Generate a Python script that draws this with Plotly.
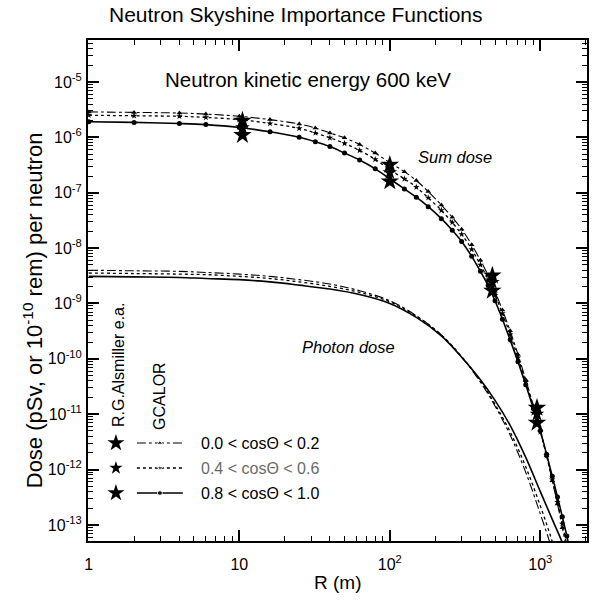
import plotly.graph_objects as go

# ---- GCALOR results: sum dose (neutron + photon) vs distance R (m) ----
r_sum = [1, 2, 4, 6, 10, 16, 25, 32, 40, 50, 63, 80, 100, 125, 150, 180, 220, 260,
         300, 350, 400, 450, 500, 560, 630, 710, 800, 900, 1000, 1100, 1200, 1300,
         1400, 1500, 1600]
sum_00_02 = [2.88e-6, 2.82e-6, 2.75e-6, 2.63e-6, 2.40e-6, 2.09e-6, 1.74e-6, 1.48e-6,
             1.20e-6, 9.8e-7, 7.4e-7, 5.2e-7, 3.5e-7, 2.4e-7, 1.66e-7, 1.05e-7, 6.0e-8,
             3.6e-8, 2.2e-8, 1.15e-8, 6.0e-9, 3.2e-9, 1.66e-9, 7.6e-10, 3.2e-10,
             1.2e-10, 4.2e-11, 1.41e-11, 5.0e-12, 1.78e-12, 6.3e-13, 2.4e-13, 8.9e-14,
             3.5e-14, 1.4e-14]
sum_04_06 = [2.51e-6, 2.45e-6, 2.40e-6, 2.29e-6, 2.09e-6, 1.78e-6, 1.45e-6, 1.20e-6,
             9.8e-7, 7.8e-7, 5.8e-7, 4.0e-7, 2.6e-7, 1.78e-7, 1.26e-7, 8.1e-8, 4.8e-8,
             2.9e-8, 1.78e-8, 9.5e-9, 5.0e-9, 2.7e-9, 1.41e-9, 6.6e-10, 2.75e-10,
             1.05e-10, 3.8e-11, 1.32e-11, 4.8e-12, 1.78e-12, 6.6e-13, 2.6e-13, 1.05e-13,
             4.2e-14, 1.7e-14]
sum_08_10 = [1.91e-6, 1.86e-6, 1.78e-6, 1.70e-6, 1.51e-6, 1.26e-6, 1.00e-6, 8.3e-7,
             6.8e-7, 5.2e-7, 3.9e-7, 2.7e-7, 1.78e-7, 1.17e-7, 8.3e-8, 5.6e-8, 3.4e-8,
             2.1e-8, 1.32e-8, 7.1e-9, 3.8e-9, 2.1e-9, 1.12e-9, 5.2e-10, 2.2e-10,
             8.9e-11, 3.4e-11, 1.26e-11, 5.0e-12, 1.9e-12, 7.6e-13, 3.2e-13, 1.4e-13,
             6.3e-14, 2.8e-14]

# ---- GCALOR results: photon dose ----
r_phot = [1, 2, 4, 6, 10, 16, 25, 40, 63, 100, 150, 220, 300, 400, 500, 630, 800,
          1000, 1200, 1400, 1600]
phot_00_02 = [3.98e-9, 3.89e-9, 3.80e-9, 3.63e-9, 3.39e-9, 3.09e-9, 2.69e-9, 2.24e-9,
              1.70e-9, 1.12e-9, 6.0e-10, 2.7e-10, 1.07e-10, 3.8e-11, 1.41e-11, 4.2e-12,
              8.9e-13, 1.58e-13, 3.5e-14, 8.0e-15, 2.0e-15]
phot_04_06 = [3.55e-9, 3.47e-9, 3.39e-9, 3.31e-9, 3.09e-9, 2.82e-9, 2.45e-9, 2.04e-9,
              1.58e-9, 1.07e-9, 5.9e-10, 2.7e-10, 1.10e-10, 4.0e-11, 1.51e-11, 4.8e-12,
              1.12e-12, 2.2e-13, 5.0e-14, 1.1e-14, 2.5e-15]
phot_08_10 = [3.09e-9, 3.02e-9, 2.95e-9, 2.82e-9, 2.69e-9, 2.45e-9, 2.14e-9, 1.82e-9,
              1.45e-9, 1.0e-9, 5.6e-10, 2.6e-10, 1.07e-10, 4.2e-11, 1.78e-11, 6.3e-12,
              1.66e-12, 4.0e-13, 1.26e-13, 4.8e-14, 1.78e-14]

# ---- R.G. Alsmiller et al. reference points ----
r_als = [10.5, 100, 480, 950]
als_00_02 = [2.0e-6, 3.2e-7, 3.2e-9, 1.3e-11]
als_04_06 = [1.5e-6, 2.3e-7, 2.4e-9, 1.0e-11]
als_08_10 = [1.1e-6, 1.6e-7, 1.7e-9, 7.0e-12]

# ---- axis ticks ----
x_major = [1, 10, 100, 1000]
x_major_text = ["1", "10", "10<sup>2</sup>", "10<sup>3</sup>"]
y_exponents = [-13, -12, -11, -10, -9, -8, -7, -6, -5]

legend_labels = ["0.0 < cos\u0398 < 0.2", "0.4 < cos\u0398 < 0.6", "0.8 < cos\u0398 < 1.0"]

FONT = "Liberation Sans, Arial, Helvetica, sans-serif"

styles = [
    dict(dash="dashdot", width=1.1, symbol="triangle-up", msize=5),
    dict(dash="dot", width=1.3, symbol="star", msize=5),
    dict(dash="solid", width=1.6, symbol="circle", msize=5),
]

fig = go.Figure()

sum_series = [sum_00_02, sum_04_06, sum_08_10]
phot_series = [phot_00_02, phot_04_06, phot_08_10]
als_series = [als_00_02, als_04_06, als_08_10]

for ys, st in zip(phot_series, styles):
    fig.add_trace(go.Scatter(
        x=r_phot, y=ys, mode="lines", line_shape="spline",
        line=dict(color="black", width=st["width"], dash=st["dash"]),
        showlegend=False, hoverinfo="skip"))

for ys, st in zip(sum_series, styles):
    fig.add_trace(go.Scatter(
        x=r_sum, y=ys, mode="lines+markers", line_shape="spline",
        line=dict(color="black", width=st["width"], dash=st["dash"]),
        marker=dict(symbol=st["symbol"], size=st["msize"], color="black"),
        showlegend=False, hoverinfo="skip"))

for ys, sz in zip(als_series, [14, 11, 14]):
    fig.add_trace(go.Scatter(
        x=r_als, y=ys, mode="markers",
        marker=dict(symbol="star", size=sz, color="black"),
        showlegend=False, hoverinfo="skip"))

# ---- hand-drawn legend on an overlay axis spanning the plot area (0..1) ----
leg_rows = [0.1956, 0.1457, 0.0958]
leg_star_x = 0.056
leg_line_x = [0.098, 0.144, 0.19]
leg_text_x = 0.2216
leg_text_colors = ["black", "#6a6a6a", "black"]
for row_y, st, sz, lab, col in zip(leg_rows, styles, [13, 10, 13], legend_labels, leg_text_colors):
    fig.add_trace(go.Scatter(
        x=[leg_star_x], y=[row_y], xaxis="x2", yaxis="y2", mode="markers",
        marker=dict(symbol="star", size=sz, color="black"),
        showlegend=False, hoverinfo="skip"))
    fig.add_trace(go.Scatter(
        x=leg_line_x, y=[row_y] * 3, xaxis="x2", yaxis="y2", mode="lines+markers",
        line=dict(color="black", width=st["width"], dash=st["dash"]),
        marker=dict(symbol=st["symbol"], size=[0, st["msize"], 0], color="black"),
        showlegend=False, hoverinfo="skip"))
    fig.add_annotation(x=leg_text_x, y=row_y, xref="x2", yref="y2", text=lab,
                       showarrow=False, xanchor="left", yanchor="middle",
                       font=dict(size=16, family=FONT, color=col))

texts = [
    dict(text="Neutron Skyshine Importance Functions", x=0.416, y=1.05, size=21, angle=0),
    dict(text="Neutron kinetic energy 600 keV", x=0.441, y=0.922, size=20.5, angle=0),
    dict(text="<i>Sum dose</i>", x=0.7345, y=0.7665, size=16.5, angle=0),
    dict(text="<i>Photon dose</i>", x=0.523, y=0.387, size=16.5, angle=0),
    dict(text="R.G.Alsmiller e.a.", x=0.0599, y=0.351, size=16, angle=-90),
    dict(text="GCALOR", x=0.1437, y=0.289, size=16, angle=-90),
    dict(text="Dose (pSv, or 10<sup>-10</sup> rem) per neutron", x=-0.1098, y=0.461,
         size=22, angle=-90),
    dict(text="R (m)", x=0.499, y=-0.0838, size=19, angle=0),
]
for t in texts:
    fig.add_annotation(x=t["x"], y=t["y"], xref="paper", yref="paper", text=t["text"],
                       showarrow=False, xanchor="center", yanchor="middle",
                       textangle=t["angle"],
                       font=dict(size=t["size"], family=FONT, color="black"))

x_minor = [m * 10 ** k for k in range(0, 4) for m in range(2, 10)]
y_minor = [m * 10.0 ** k for k in range(-14, -4) for m in range(2, 10)]

fig.update_layout(
    width=594, height=605,
    margin=dict(l=88, r=5, t=40, b=64),
    paper_bgcolor="white", plot_bgcolor="white",
    font=dict(family=FONT, color="black"),
    showlegend=False,
    xaxis=dict(
        type="log", range=[-0.005, 3.31],
        tickmode="array", tickvals=x_major, ticktext=x_major_text,
        ticks="inside", ticklen=11, tickwidth=1.5, tickcolor="black",
        showline=True, linewidth=2, linecolor="black", mirror="allticks",
        showgrid=False, zeroline=False,
        tickfont=dict(size=16, family=FONT, color="black"),
        ticklabelstandoff=8,
        minor=dict(tickmode="array", tickvals=x_minor, ticks="inside", ticklen=5,
                   tickwidth=1, tickcolor="black", showgrid=False),
    ),
    yaxis=dict(
        type="log", range=[-13.29, -4.242],
        tickmode="array", tickvals=[10.0 ** e for e in y_exponents],
        ticktext=["10<sup>%d</sup>" % e for e in y_exponents],
        ticks="inside", ticklen=11, tickwidth=1.5, tickcolor="black",
        showline=True, linewidth=2, linecolor="black", mirror="allticks",
        showgrid=False, zeroline=False,
        tickfont=dict(size=16, family=FONT, color="black"),
        ticklabelstandoff=1,
        minor=dict(tickmode="array", tickvals=y_minor, ticks="inside", ticklen=5,
                   tickwidth=1, tickcolor="black", showgrid=False),
    ),
    xaxis2=dict(overlaying="x", range=[0, 1], visible=False, fixedrange=True),
    yaxis2=dict(overlaying="y", range=[0, 1], visible=False, fixedrange=True),
)

fig.write_html("out.html")
